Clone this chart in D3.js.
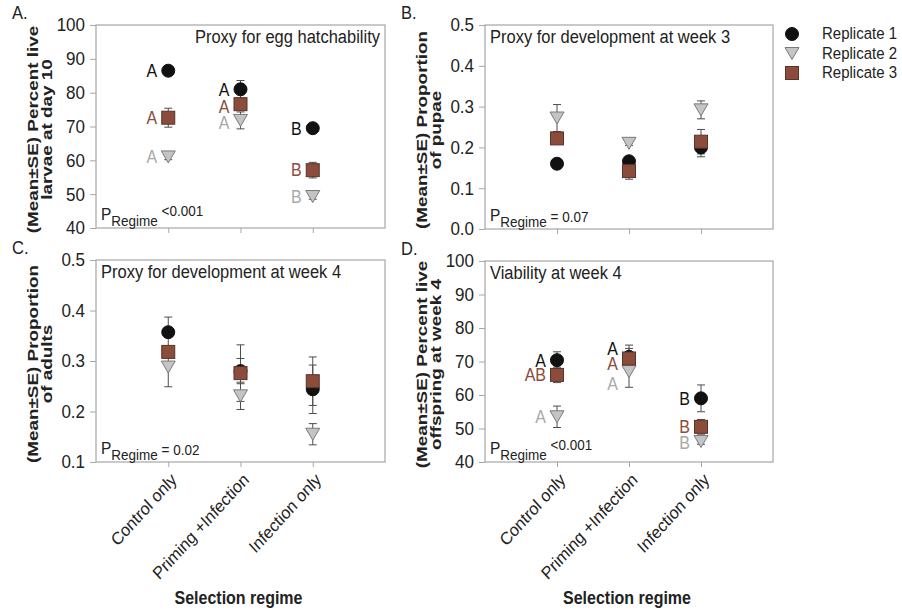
<!DOCTYPE html>
<html>
<head>
<meta charset="utf-8">
<script src="https://cdn.jsdelivr.net/npm/d3@7"></script>
<style>
  body { margin: 0; background: #fff; }
  svg { display: block; font-family: Arial, "Liberation Sans", sans-serif; }
</style>
</head>
<body>
<svg id="chart" width="902" height="614"></svg>
<script>
const categories = ["Control only", "Priming +Infection", "Infection only"];
const replicates = ["Replicate 1", "Replicate 2", "Replicate 3"];

// A: percent live larvae at day 10
const hatchMean = [[86.5, 81.0, 69.5], [61.0, 71.8, 49.3], [72.6, 76.6, 57.1]];
const hatchSE = [[1.0, 2.6, 1.0], [0.8, 2.5, 0.8], [2.8, 1.5, 2.3]];
const hatchLetters = [["A", "A", "B"], ["A", "A", "B"], ["A", "A", "B"]];
const hatchLetterY = [[86.5, 81.0, 69.5], [61.0, 71.0, 49.3], [72.6, 75.9, 57.1]];

// B: proportion of pupae at week 3
const pupaeMean = [[0.160, 0.166, 0.200], [0.272, 0.210, 0.292], [0.222, 0.142, 0.214]];
const pupaeSE = [[0.005, 0.005, 0.023], [0.033, 0.005, 0.022], [0.012, 0.020, 0.030]];

// C: proportion of adults at week 4
const adultMean = [[0.357, 0.280, 0.244], [0.288, 0.231, 0.155], [0.318, 0.276, 0.260]];
const adultSE = [[0.030, 0.025, 0.048], [0.039, 0.027, 0.021], [0.010, 0.056, 0.048]];

// D: percent live offspring at week 4
const viaMean = [[70.4, 71.4, 59.0], [53.5, 67.0, 46.1], [66.0, 70.9, 50.5]];
const viaSE = [[2.5, 3.5, 4.0], [3.2, 4.7, 0.8], [2.3, 3.0, 2.2]];
const viaLetters = [["A", "A", "B"], ["A", "A", "B"], ["AB", "A", "B"]];
const viaLetterY = [[70.4, 73.9, 59.0], [53.5, 63.5, 45.7], [66.0, 69.5, 50.5]];

const pctTicks = [40, 50, 60, 70, 80, 90, 100];
const propTicksB = [0.0, 0.1, 0.2, 0.3, 0.4, 0.5];
const propTicksC = [0.1, 0.2, 0.3, 0.4, 0.5];

const fill = ["#111111", "#c4c4c4", "#8b4c3c"];
const stroke = ["#111111", "#7a7a7a", "#5a3328"];
const letterColor = ["#111111", "#a9a9a9", "#8b4c3c"];
const SY = 1.1; // text looks taller than wide in the original

const svg = d3.select("#chart");

const panels = [
  { tag: "A.", left: 96, right: 385, top: 25, bottom: 228, domain: [40, 100], ticks: pctTicks, fmt: d3.format("d"),
    mean: hatchMean, se: hatchSE, letters: hatchLetters, letterY: hatchLetterY,
    title: "Proxy for egg hatchability", titleEnd: true, p: "<0.001", pRaise: true,
    yTitle: ["(Mean\u00b1SE) Percent live", "larvae at day 10"], xLabels: false },
  { tag: "B.", left: 485, right: 773, top: 25, bottom: 229, domain: [0, 0.5], ticks: propTicksB, fmt: d3.format(".1f"),
    mean: pupaeMean, se: pupaeSE,
    title: "Proxy for development at week 3", p: "= 0.07",
    yTitle: ["(Mean\u00b1SE) Proportion", "of pupae"], xLabels: false },
  { tag: "C.", left: 96, right: 385, top: 260, bottom: 462, domain: [0.1, 0.5], ticks: propTicksC, fmt: d3.format(".1f"),
    mean: adultMean, se: adultSE,
    title: "Proxy for development at week 4", p: "= 0.02",
    yTitle: ["(Mean\u00b1SE) Proportion", "of adults"], xLabels: true },
  { tag: "D.", left: 485, right: 773, top: 261, bottom: 462, domain: [40, 100], ticks: pctTicks, fmt: d3.format("d"),
    mean: viaMean, se: viaSE, letters: viaLetters, letterY: viaLetterY,
    title: "Viability at week 4", p: "<0.001", pRaise: true,
    yTitle: ["(Mean\u00b1SE) Percent live", "offspring at week 4"], xLabels: true }
];

function marker(g, k) {
  if (k === 0) g.append("circle").attr("r", 6.5);
  else if (k === 1) g.append("path").attr("d", "M-7,-6L7,-6L0,6Z");
  else g.append("rect").attr("x", -6.5).attr("y", -6.5).attr("width", 13).attr("height", 13);
  g.selectAll("*").attr("fill", fill[k]).attr("stroke", stroke[k]).attr("stroke-width", 1);
}

function drawPanel(p) {
  const x = d3.scaleLinear().domain([0, 4]).range([p.left, p.right]);
  const y = d3.scaleLinear().domain(p.domain).range([p.bottom, p.top]);

  svg.append("rect")
    .attr("x", p.left).attr("y", p.top)
    .attr("width", p.right - p.left).attr("height", p.bottom - p.top)
    .attr("fill", "none").attr("stroke", "#a6a6a6").attr("stroke-width", 1.2);

  const gy = svg.append("g")
    .attr("transform", `translate(${p.left},0)`)
    .call(d3.axisLeft(y).tickValues(p.ticks).tickFormat(p.fmt).tickSize(6).tickPadding(5));
  gy.select(".domain").remove();
  gy.selectAll(".tick line").attr("stroke", "#a6a6a6");
  gy.selectAll(".tick text")
    .attr("font-size", 17).attr("fill", "#222").attr("font-family", null)
    .attr("transform", `scale(1,${SY})`);

  const gx = svg.append("g")
    .attr("transform", `translate(0,${p.bottom})`)
    .call(d3.axisBottom(x).tickValues([1, 2, 3]).tickSize(5).tickFormat(i => categories[i - 1]));
  gx.select(".domain").remove();
  gx.selectAll(".tick line").attr("stroke", "#a6a6a6");
  if (p.xLabels) {
    gx.selectAll(".tick text")
      .attr("font-size", 16).attr("fill", "#222").attr("font-family", null)
      .attr("text-anchor", "end").attr("x", 0).attr("y", 0).attr("dy", "0.7em")
      .attr("transform", `translate(1,10) scale(1,${SY}) rotate(-45)`);
  } else {
    gx.selectAll(".tick text").remove();
  }

  // error bars then markers, one replicate at a time
  const order = [0, 1, 2];
  order.forEach(k => {
    const rows = p.mean[k].map((m, i) => ({ i, m, s: p.se[k][i] }));
    const eb = svg.append("g").attr("stroke", "#4d4d4d").attr("stroke-width", 1);
    rows.forEach(r => {
      const cx = x(r.i + 1);
      eb.append("line").attr("x1", cx).attr("x2", cx).attr("y1", y(r.m - r.s)).attr("y2", y(r.m + r.s));
      [r.m - r.s, r.m + r.s].forEach(v =>
        eb.append("line").attr("x1", cx - 4).attr("x2", cx + 4).attr("y1", y(v)).attr("y2", y(v)));
    });
  });
  order.forEach(k => {
    p.mean[k].forEach((m, i) => {
      const g = svg.append("g").attr("transform", `translate(${x(i + 1)},${y(m)})`);
      marker(g, k);
    });
  });

  if (p.letters) {
    p.letters.forEach((row, k) => row.forEach((t, i) => {
      svg.append("text")
        .attr("transform", `translate(${x(i + 1) - 11},${y(p.letterY[k][i])}) scale(1,${SY})`)
        .attr("dy", "0.36em").attr("text-anchor", "end")
        .attr("font-size", 16).attr("fill", letterColor[k]).text(t);
    }));
  }

  // panel title
  const tx = p.titleEnd ? p.right - 5 : p.left + 5;
  svg.append("text")
    .attr("transform", `translate(${tx},${p.top + 18}) scale(1,${SY})`)
    .attr("text-anchor", p.titleEnd ? "end" : "start")
    .attr("font-size", 16.5).attr("fill", "#222").text(p.title);

  // P regime
  const pt = svg.append("text")
    .attr("transform", `translate(${p.left + 5},${p.bottom - 8}) scale(1,${SY})`)
    .attr("fill", "#222");
  pt.append("tspan").attr("font-size", 15.5).text("P");
  pt.append("tspan").attr("font-size", 13.5).attr("dy", 5).text("Regime");
  pt.append("tspan").attr("font-size", 13.5).attr("dy", p.pRaise ? -9 : -4).text(" " + p.p);

  // panel tag
  svg.append("text")
    .attr("transform", `translate(${p.left - 84},${p.top - 6}) scale(1,${SY})`)
    .attr("font-size", 16.5).attr("fill", "#222").text(p.tag);

  // y-axis title, two bold lines, stretched along their length
  const cy = (p.top + p.bottom) / 2;
  p.yTitle.forEach((line, j) => {
    svg.append("text")
      .attr("transform", `translate(${p.left - 58 + j * 14},${cy + 3}) rotate(-90) scale(1.22,1)`)
      .attr("text-anchor", "middle").attr("font-size", 15.5).attr("font-weight", "bold")
      .attr("fill", "#222").text(line);
  });

  if (p.xLabels) {
    svg.append("text")
      .attr("transform", `translate(${(p.left + p.right) / 2 - 2},604) scale(1,${SY})`)
      .attr("text-anchor", "middle").attr("font-size", 16).attr("font-weight", "bold")
      .attr("fill", "#222").text("Selection regime");
  }
}

panels.forEach(drawPanel);

// legend
const legend = svg.append("g").attr("transform", "translate(792,34)");
replicates.forEach((name, k) => {
  const row = legend.append("g").attr("transform", `translate(0,${k * 19.5})`);
  marker(row.append("g"), k);
  row.append("text")
    .attr("transform", `translate(30,5) scale(1,${SY})`)
    .attr("font-size", 15).attr("fill", "#222").text(name);
});
</script>
</body>
</html>
